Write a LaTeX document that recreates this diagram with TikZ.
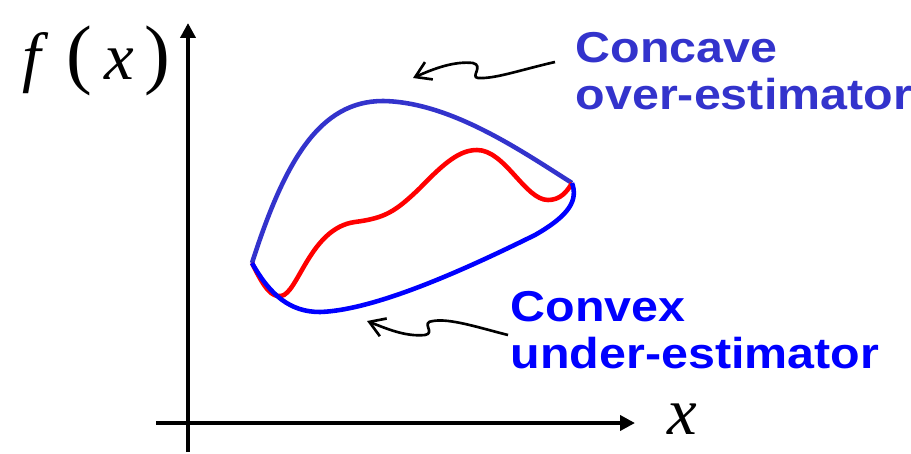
\documentclass[tikz,border=0pt]{standalone}
\usepackage{fontspec}
\setmainfont{Liberation Serif}
\newfontfamily\labelfont[FakeStretch=1.12]{Liberation Sans}
\usetikzlibrary{arrows.meta}
\definecolor{concave}{RGB}{51,51,204}
\definecolor{convex}{RGB}{0,0,255}
\tikzset{
  axis/.style={line width=2.3pt,-{Triangle[length=0.3cm,width=0.3cm]}},
  bound/.style={line width=2.6pt},
  squiggle/.style={line width=1.5pt,-{Straight Barb[length=0.3cm,width=0.38cm]}},
  label/.style={inner sep=0pt,align=left,anchor=north west,
    font=\labelfont\bfseries\fontsize{24.6}{26.8}\selectfont},
  axlabel/.style={inner sep=0pt,anchor=base west}
}

\begin{document}
\begin{tikzpicture}[x=0.02cm,y=-0.02cm,>=Stealth,thick]
  \useasboundingbox (0,0) rectangle (911,453);

  \coordinate (ybot) at (188,452);
  \coordinate (ytop) at (188,23);
  \coordinate (xleft) at (156,423);
  \coordinate (xright) at (635,423);
  \coordinate (a) at (252,263);
  \coordinate (b) at (572,183);

  \draw[axis] (ybot) -- (ytop);
  \draw[axis] (xleft) -- (xright);

  \node[axlabel] (fx) at (22,79) {\fontsize{38}{42}\selectfont\textit{f}\kern10pt{\fontsize{44}{48}\selectfont(}\kern7pt\textit{x}\kern6pt{\fontsize{44}{48}\selectfont)}};
  \node[axlabel] (xl) at (667,434) {\fontsize{38}{42}\selectfont\textit{x}};

  \draw[bound,concave] (a) .. controls (285,160) and (320,101) .. (383,101)
    .. controls (450,102) and (520,150) .. (b);
  \draw[bound,red] (a) .. controls (265,290) and (272,297) .. (281,296)
    .. controls (298,294) and (310,228) .. (355,222)
    .. controls (385,218) and (395,212) .. (420,188)
    .. controls (445,162) and (460,150) .. (477,150)
    .. controls (505,150) and (525,200) .. (548,200)
    .. controls (560,200) and (567,192) .. (b);
  \draw[bound,convex] (a) .. controls (270,295) and (290,312) .. (320,312)
    .. controls (380,310) and (480,262) .. (535,235)
    .. controls (570,215) and (578,200) .. (b);

  \node[label,text=concave] (cc) at (575,32) {Concave\\over-estimator};
  \node[label,text=convex] (cv) at (510,291) {Convex\\under-estimator};

  \coordinate (s1) at (555,62);
  \coordinate (t1) at (413,78);
  \coordinate (s2) at (508,335);
  \coordinate (t2) at (367,321);
  \draw[squiggle] (s1) .. controls (520,70) and (495,79) .. (478,78)
    .. controls (470,77) and (484,66) .. (473,63)
    .. controls (455,61) and (435,68) .. (t1);
  \draw[squiggle] (s2) .. controls (480,328) and (450,318) .. (433,321)
    .. controls (420,322) and (436,333) .. (425,335)
    .. controls (405,337) and (385,328) .. (t2);
\end{tikzpicture}
\end{document}
